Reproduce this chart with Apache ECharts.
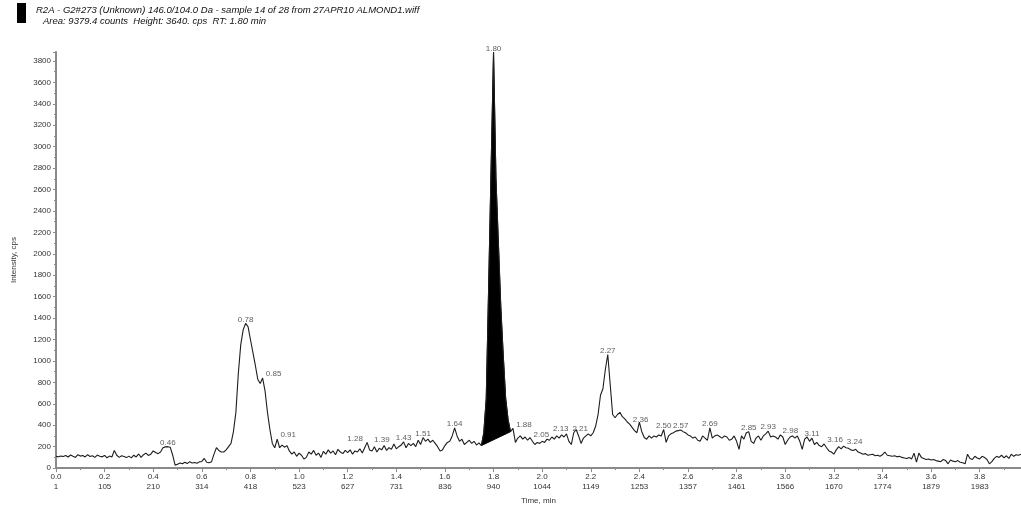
<!DOCTYPE html>
<html>
<head>
<meta charset="utf-8">
<script src="https://cdn.jsdelivr.net/npm/echarts@6/dist/echarts.min.js"></script>
<style>
html,body{margin:0;padding:0;background:#fff;}
#chart{width:1021px;height:510px;}
</style>
</head>
<body>
<div id="chart"></div>
<script>
// ---- data ----
const TIME_STEP = 0.01; // min between samples, first sample at 0.00 min
const intensity = [
  110,105,112,108,118,104,122,110,100,125,
  112,118,104,126,108,115,100,122,110,105,
  118,96,112,104,165,120,100,115,108,98,
  112,95,120,104,132,100,125,140,118,130,
  160,145,135,150,190,198,200,195,120,28,
  35,48,40,55,42,60,48,52,45,58,
  62,90,55,50,60,130,190,165,150,150,
  170,200,230,340,520,880,1150,1290,1350,1320,
  1200,1080,960,830,790,840,720,520,360,230,
  190,270,190,215,195,210,160,130,150,110,
  140,120,85,100,150,130,165,120,140,100,
  155,130,170,140,160,125,175,150,135,165,
  145,170,130,160,150,180,140,190,240,170,
  160,200,150,185,170,210,165,190,175,225,
  180,200,215,245,190,230,210,230,200,260,
  220,285,250,270,240,260,230,200,160,170,
  210,240,250,300,375,300,250,270,220,240,
  260,230,250,215,235,210,330,650,1700,2800,
  3880,2700,2100,1500,1050,650,450,340,370,240,
  280,300,270,290,260,285,250,220,240,230,
  250,240,270,260,290,270,300,280,310,290,
  320,250,220,330,360,300,230,280,300,320,
  300,330,390,500,680,740,920,1060,780,500,
  470,500,520,480,460,430,410,380,350,330,
  430,340,285,270,300,280,300,290,310,300,
  360,240,300,320,330,345,350,355,340,330,
  310,300,280,290,260,250,300,280,260,375,
  280,300,310,295,280,300,290,260,270,300,
  250,175,300,270,330,340,250,230,280,300,
  260,300,320,345,290,300,290,270,310,290,
  220,260,290,300,280,300,250,175,270,290,
  250,280,220,240,210,200,225,190,160,150,
  130,170,200,180,205,190,185,170,165,175,
  150,140,130,135,120,125,130,115,120,110,
  125,150,120,115,110,115,105,110,100,95,
  90,100,85,140,55,140,100,90,80,85,
  75,80,70,65,60,80,70,40,75,65,
  60,70,55,50,40,130,90,80,110,95,
  85,110,100,80,40,60,90,110,100,120,
  95,115,90,130,110,125,120,130
];
const scanLabels = ['1','105','210','314','418','523','627','731','836','940','1044','1149','1253','1357','1461','1566','1670','1774','1879','1983'];
const peakLabels = ['0.46','0.78','0.85','0.91','1.28','1.39','1.43','1.51','1.64','1.80','1.88','2.05','2.13','2.21','2.27','2.36','2.50','2.57','2.69','2.85','2.93','2.98','3.11','3.16','3.24'];
const integratedRange = [1.75, 1.87]; // min, the filled peak
const titleLine1 = 'R2A - G2#273 (Unknown) 146.0/104.0 Da - sample 14 of 28 from 27APR10 ALMOND1.wiff';
const titleLine2 = 'Area: 9379.4 counts  Height: 3640. cps  RT: 1.80 min';

// ---- build ----
const times = intensity.map((_, i) => Math.round(i * TIME_STEP * 100) / 100);
const trace = times.map((t, i) => [t, intensity[i]]);

// label placement (style only)
const labelShift = {'0.85':11,'0.91':11,'1.88':11,'2.36':11,'2.98':10,'3.16':11,'3.24':11,
  '1.28':-12,'1.39':-12,'2.05':-13,'2.13':-13,'2.21':-13};
const labelData = peakLabels.map(s => {
  const t = parseFloat(s);
  const idx = Math.round(t / TIME_STEP);
  return {name: s, value: [t, intensity[idx]], label: {offset: [labelShift[s] || 0, 0]}};
});

const axisColor = '#8a8a8a';
const labelFont = {fontFamily: 'Liberation Sans, Arial, sans-serif', fontSize: 8, color: '#333'};

const chart = echarts.init(document.getElementById('chart'), null, {renderer: 'canvas'});
chart.setOption({
  animation: false,
  backgroundColor: '#fff',
  grid: {left: 56, right: 0, top: 52, bottom: 36, containLabel: false},
  graphic: [
    {type: 'rect', left: 17, top: 3, shape: {width: 9, height: 20}, style: {fill: '#000'}},
    {type: 'text', left: 36, top: 5, style: {text: titleLine1, fill: '#111', fontStyle: 'italic', fontSize: 9.5, fontFamily: 'Liberation Sans, Arial, sans-serif'}},
    {type: 'text', left: 43, top: 16, style: {text: titleLine2, fill: '#111', fontStyle: 'italic', fontSize: 9.5, fontFamily: 'Liberation Sans, Arial, sans-serif'}}
  ],
  xAxis: {
    type: 'value', min: 0, max: 3.97, interval: 0.2,
    name: 'Time, min', nameLocation: 'middle', nameGap: 26,
    nameTextStyle: labelFont,
    axisLine: {lineStyle: {color: axisColor, width: 2}},
    axisTick: {length: 4, lineStyle: {color: axisColor}},
    minorTick: {show: true, splitNumber: 2, length: 2, lineStyle: {color: axisColor}},
    splitLine: {show: false},
    axisLabel: Object.assign({
      margin: 4, lineHeight: 10, showMaxLabel: false,
      formatter: v => {
        const k = Math.round(v / 0.2);
        if (Math.abs(v - k * 0.2) > 1e-6) return '';
        return v.toFixed(1) + '\n' + (scanLabels[k] || '');
      }
    }, labelFont)
  },
  yAxis: {
    type: 'value', min: 0, max: 3883, interval: 200,
    name: 'Intensity, cps', nameLocation: 'middle', nameGap: 38, nameRotate: 90,
    nameTextStyle: labelFont,
    axisLine: {show: true, lineStyle: {color: axisColor, width: 2}},
    axisTick: {show: true, length: 3, lineStyle: {color: axisColor}},
    minorTick: {show: true, splitNumber: 2, length: 2, lineStyle: {color: axisColor}},
    splitLine: {show: false},
    axisLabel: Object.assign({margin: 5, showMaxLabel: false,
      formatter: v => (v % 200 === 0 ? String(v) : '')}, labelFont)
  },
  series: [
    {
      type: 'custom',
      coordinateSystem: 'cartesian2d',
      data: [[integratedRange[0], 0]],
      renderItem: function (params, api) {
        const pts = [];
        for (let i = 0; i < times.length; i++) {
          if (times[i] >= integratedRange[0] - 1e-9 && times[i] <= integratedRange[1] + 1e-9) {
            pts.push(api.coord([times[i], intensity[i]]));
          }
        }
        return {type: 'polygon', shape: {points: pts}, style: {fill: '#000', stroke: '#000', lineWidth: 1}};
      },
      z: 1
    },
    {
      type: 'line',
      data: trace,
      showSymbol: false,
      symbol: 'none',
      lineStyle: {color: '#1e1e1e', width: 1.1},
      z: 2
    },
    {
      type: 'scatter',
      data: labelData,
      symbolSize: 0,
      label: Object.assign({show: true, position: 'top', distance: 0, formatter: p => p.name}, labelFont),
      z: 3
    }
  ]
});
</script>
</body>
</html>
